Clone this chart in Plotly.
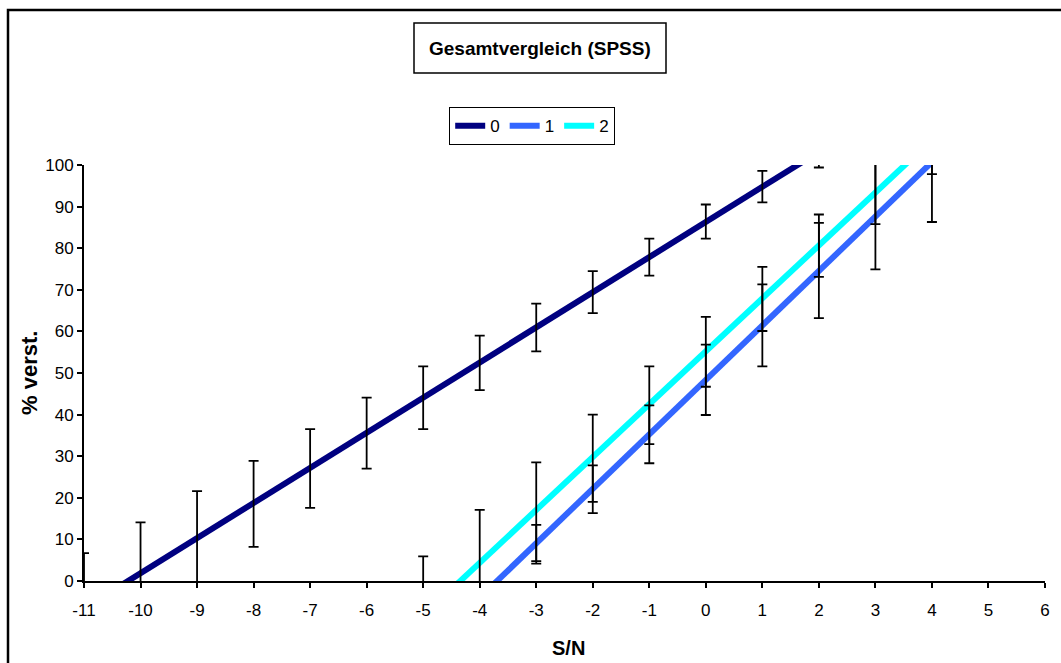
import numpy as np
import plotly.graph_objects as go

# ---------------- data ----------------
series_names = ["0", "1", "2"]
series_colors = ["#000080", "#3366FF", "#00FFFF"]

x0 = [-11, -10, -9, -8, -7, -6, -5, -4, -3, -2, -1, 0, 1, 2]
mean0 = [-6.5, 2.0, 10.5, 18.55, 27.05, 35.55, 44.05, 52.45, 60.95, 69.45, 77.85, 86.4, 94.8, 103.2]
err0 = [13.2, 12.1, 11.1, 10.35, 9.45, 8.55, 7.55, 6.55, 5.75, 5.05, 4.45, 4.1, 3.8, 3.8]

x1 = [-5, -4, -3, -2, -1, 0, 1, 2, 3, 4]
mean1 = [-17.0, -3.9, 8.85, 22.05, 35.25, 48.35, 61.45, 74.65, 87.6, 100.7]
err1 = [3.0, 3.5, 4.65, 5.75, 6.95, 8.45, 9.85, 11.45, 12.7, 14.4]

x2 = [-5, -4, -3, -2, -1, 0, 1, 2, 3, 4]
mean2 = [-7.6, 4.4, 16.65, 29.5, 42.25, 55.1, 67.8, 80.6, 93.6, 106.4]
err2 = [13.5, 12.7, 11.85, 10.5, 9.35, 8.4, 7.7, 7.5, 7.8, 8.6]

x_ticks = list(range(-11, 7))
y_ticks = list(range(0, 101, 10))

title_text = "Gesamtvergleich (SPSS)"
x_title = "S/N"
y_title = "% verst."

# ---------------- layout geometry (pixels) ----------------
W, H = 1061, 663
L, R, T, B = 84, 16, 165, 82
PW = W - L - R
PH = H - T - B


def px(xp):
    return (xp - L) / PW


def py(yp):
    return 1 - (yp - T) / PH


FONT = "Liberation Sans, Arial, sans-serif"

fig = go.Figure()

data = [(x0, mean0, err0), (x1, mean1, err1), (x2, mean2, err2)]

# trendlines (linear fit of the means, as the spreadsheet trendline)
for (xs, ms, es), name, col in zip(data, series_names, series_colors):
    k, d = np.polyfit(xs, ms, 1)
    xl = np.array([min(xs), max(xs)], dtype=float)
    fig.add_trace(go.Scatter(
        x=xl, y=k * xl + d, mode="lines", name=name,
        line=dict(color=col, width=6), showlegend=True,
        hoverinfo="skip",
    ))

# error bars around the means (invisible markers)
for (xs, ms, es), name in zip(data, series_names):
    fig.add_trace(go.Scatter(
        x=xs, y=ms, mode="markers", showlegend=False,
        marker=dict(size=1, color="rgba(0,0,0,0)"),
        error_y=dict(type="data", array=es, visible=True,
                     color="black", thickness=1.8, width=5),
        hoverinfo="skip",
    ))

fig.update_xaxes(
    range=[-11, 6], tickmode="array", tickvals=x_ticks,
    ticktext=[str(v) for v in x_ticks],
    showline=True, linecolor="black", linewidth=2,
    ticks="outside", ticklen=5, tickwidth=1.5, tickcolor="black",
    showgrid=False, zeroline=False, ticklabelstandoff=8,
    tickfont=dict(family=FONT, size=17, color="black"),
)
fig.update_yaxes(
    range=[0, 100], tickmode="array", tickvals=y_ticks,
    ticktext=[str(v) for v in y_ticks],
    showline=True, linecolor="black", linewidth=2,
    ticks="outside", ticklen=5, tickwidth=1.5, tickcolor="black",
    showgrid=False, zeroline=False,
    tickfont=dict(family=FONT, size=17, color="black"),
)

shapes = [
    # outer chart border (extends beyond the visible area on right/bottom)
    dict(type="rect", xref="paper", yref="paper",
         x0=px(8), x1=px(W + 20), y0=py(H + 20), y1=py(10),
         line=dict(color="black", width=2.5), fillcolor="rgba(0,0,0,0)",
         layer="below"),
    # title box
    dict(type="rect", xref="paper", yref="paper",
         x0=px(414), x1=px(666), y0=py(73), y1=py(23),
         line=dict(color="black", width=1.5), fillcolor="white"),
]

annotations = [
    dict(text="<b>" + title_text + "</b>", xref="paper", yref="paper",
         x=px(540), y=py(48), xanchor="center", yanchor="middle",
         showarrow=False, font=dict(family=FONT, size=19, color="black")),
    dict(text="<b>" + x_title + "</b>", xref="paper", yref="paper",
         x=px(568), y=py(648), xanchor="center", yanchor="middle",
         showarrow=False, font=dict(family=FONT, size=20, color="black")),
    dict(text="<b>" + y_title + "</b>", xref="paper", yref="paper",
         x=px(29), y=py(373), xanchor="center", yanchor="middle",
         textangle=-90,
         showarrow=False, font=dict(family=FONT, size=22, color="black")),
]

fig.update_layout(
    width=W, height=H,
    margin=dict(l=L, r=R, t=T, b=B),
    paper_bgcolor="white", plot_bgcolor="white",
    shapes=shapes, annotations=annotations,
    legend=dict(
        orientation="h", xref="paper", yref="paper",
        x=px(532), y=py(107), xanchor="center", yanchor="top",
        bgcolor="white", bordercolor="black", borderwidth=1.2,
        font=dict(family=FONT, size=17, color="black"),
        itemwidth=30, tracegroupgap=0,
    ),
    showlegend=True,
)

fig.write_html("out.html")
